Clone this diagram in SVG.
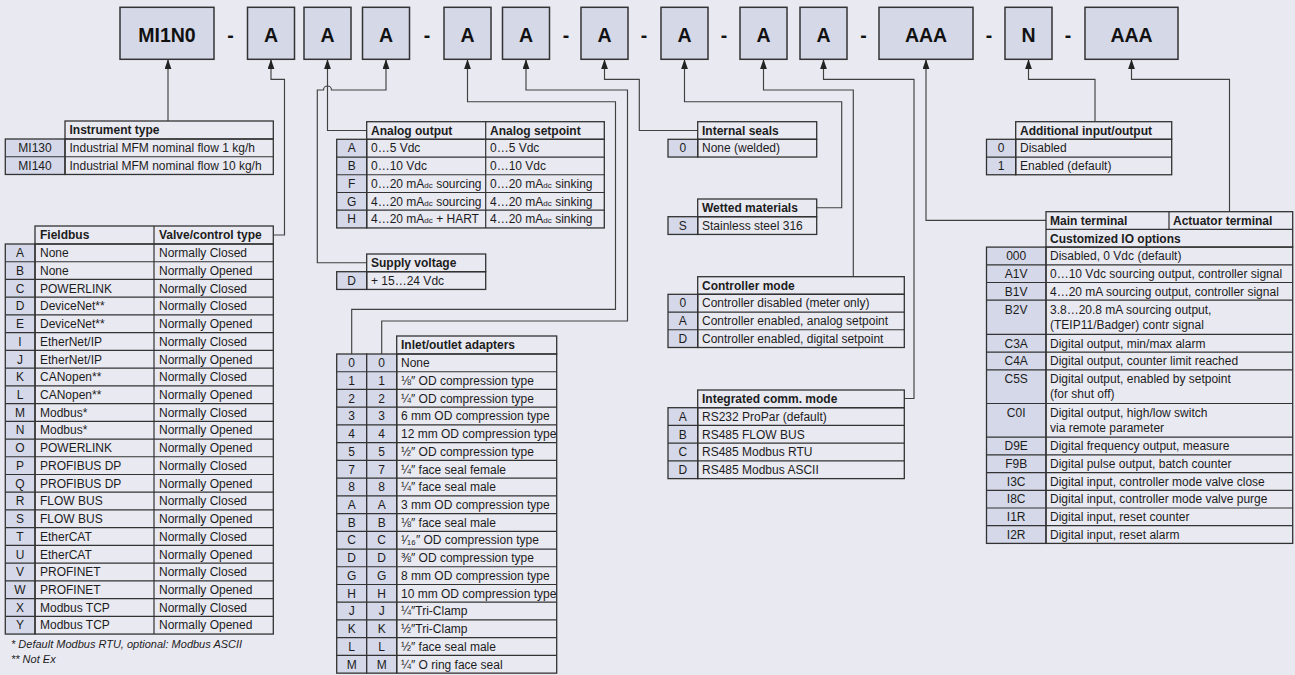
<svg xmlns="http://www.w3.org/2000/svg" width="1295" height="675" viewBox="0 0 1295 675">
<defs>
<style>
.t{font-family:"Liberation Sans",Arial,sans-serif;font-size:12px;fill:#1c1c1c}
.h{font-weight:bold}
.m{text-anchor:middle}
.code{fill:#d4d8e8;stroke:#333;stroke-width:1.3}
.cell{fill:none;stroke:#333;stroke-width:1.3}
.grid{fill:none;stroke:#333;stroke-width:1.2}
.box{fill:#d5d8e7;stroke:#333;stroke-width:1.5}
.big{font-family:"Liberation Sans",Arial,sans-serif;font-size:19.5px;font-weight:bold;text-anchor:middle;fill:#111}
.conn{fill:none;stroke:#404040;stroke-width:1.15}
.note{font-style:italic;font-size:11px}
.sub{font-size:8px}
</style>
<marker id="arr" markerUnits="userSpaceOnUse" markerWidth="10" markerHeight="8" refX="10" refY="3.5" orient="auto-start-reverse"><path d="M0,0 L10,3.5 L0,7 z" fill="#222"/></marker>
</defs>
<rect width="1295" height="675" fill="#e9e9f2"/>

<g id="code-row">
<g id="box-mi1n0"><rect class="box" x="120" y="7.3" width="94" height="52"/><text class="big" x="167" y="41.5">MI1N0</text></g>
<text class="big" x="230.5" y="41.5">-</text>
<g id="box-a1"><rect class="box" x="247.5" y="7.3" width="47" height="52"/><text class="big" x="271" y="41.5">A</text></g>
<g id="box-a2"><rect class="box" x="304" y="7.3" width="47" height="52"/><text class="big" x="327.5" y="41.5">A</text></g>
<g id="box-a3"><rect class="box" x="362.5" y="7.3" width="47" height="52"/><text class="big" x="386" y="41.5">A</text></g>
<text class="big" x="427" y="41.5">-</text>
<g id="box-a4"><rect class="box" x="444" y="7.3" width="47" height="52"/><text class="big" x="467.5" y="41.5">A</text></g>
<g id="box-a5"><rect class="box" x="502.5" y="7.3" width="47" height="52"/><text class="big" x="526" y="41.5">A</text></g>
<text class="big" x="566" y="41.5">-</text>
<g id="box-a6"><rect class="box" x="581" y="7.3" width="47" height="52"/><text class="big" x="604.5" y="41.5">A</text></g>
<text class="big" x="644" y="41.5">-</text>
<g id="box-a7"><rect class="box" x="661" y="7.3" width="47" height="52"/><text class="big" x="684.5" y="41.5">A</text></g>
<text class="big" x="724" y="41.5">-</text>
<g id="box-a8"><rect class="box" x="740" y="7.3" width="47" height="52"/><text class="big" x="763.5" y="41.5">A</text></g>
<g id="box-a9"><rect class="box" x="800" y="7.3" width="47" height="52"/><text class="big" x="823.5" y="41.5">A</text></g>
<text class="big" x="863.5" y="41.5">-</text>
<g id="box-aaa1"><rect class="box" x="879" y="7.3" width="94" height="52"/><text class="big" x="926" y="41.5">AAA</text></g>
<text class="big" x="989" y="41.5">-</text>
<g id="box-n"><rect class="box" x="1005" y="7.3" width="47" height="52"/><text class="big" x="1028.5" y="41.5">N</text></g>
<text class="big" x="1068" y="41.5">-</text>
<g id="box-aaa2"><rect class="box" x="1085" y="7.3" width="93" height="52"/><text class="big" x="1131.5" y="41.5">AAA</text></g>
</g>

<g id="connectors">
<path class="conn" marker-start="url(#arr)" d="M168,59.3 V121"/>
<path class="conn" marker-start="url(#arr)" d="M271,59.3 V79.3 H284.5 V235 H273.3"/>
<path class="conn" marker-start="url(#arr)" d="M327.5,59.3 V130.5 H366.7"/>
<path class="conn" marker-start="url(#arr)" d="M386,59.3 V90 H331.5 A4,4 0 0 0 323.5,90 H317.3 V262.7 H366.7"/>
<path class="conn" marker-start="url(#arr)" d="M467.5,59.3 V101.7 H615.5 V309.3 H351.7 V354"/>
<path class="conn" marker-start="url(#arr)" d="M526,59.3 V90 H627.5 V321 H381.7 V354"/>
<path class="conn" marker-start="url(#arr)" d="M604.5,59.3 V79.3 H639.3 V130.5 H697.7"/>
<path class="conn" marker-start="url(#arr)" d="M684.5,59.3 V101.7 H841.7 V207.7 H816.7"/>
<path class="conn" marker-start="url(#arr)" d="M763.5,59.3 V90 H853.3 V276.7"/>
<path class="conn" marker-start="url(#arr)" d="M823.5,59.3 V79.3 H914 V398.5 H904.3"/>
<path class="conn" marker-start="url(#arr)" d="M926,59.3 V220.3 H1046"/>
<path class="conn" marker-start="url(#arr)" d="M1028.5,59.3 V79.3 H1095 V121.7"/>
<path class="conn" marker-start="url(#arr)" d="M1131.5,59.3 V79.3 H1229.5 V211.7"/>
</g>

<g id="instrument-type">
<rect class="cell" x="65" y="121" width="208.3" height="18"/>
<rect class="code" x="5.3" y="139" width="59.7" height="35.46"/>
<rect class="cell" x="65" y="139" width="208.3" height="35.46"/>
<path class="grid" d="M5.3 156.73H273.3"/>
<text class="t h" x="69.5" y="134.1">Instrument type</text>
<text class="t m" x="35" y="152.1">MI130</text><text class="t" x="69.5" y="152.1">Industrial MFM nominal flow 1 kg/h</text>
<text class="t m" x="35" y="169.8">MI140</text><text class="t" x="69.5" y="169.8">Industrial MFM nominal flow 10 kg/h</text>
</g>

<g id="fieldbus">
<rect class="cell" x="35" y="226" width="238.3" height="18"/>
<rect class="code" x="5.3" y="244" width="29.7" height="390.06"/>
<rect class="cell" x="35" y="244" width="238.3" height="390.06"/>
<path class="grid" d="M154 226V634.06M5.3 261.73H273.3M5.3 279.46H273.3M5.3 297.19H273.3M5.3 314.92H273.3M5.3 332.65H273.3M5.3 350.38H273.3M5.3 368.11H273.3M5.3 385.84H273.3M5.3 403.57H273.3M5.3 421.3H273.3M5.3 439.03H273.3M5.3 456.76H273.3M5.3 474.49H273.3M5.3 492.22H273.3M5.3 509.95H273.3M5.3 527.68H273.3M5.3 545.41H273.3M5.3 563.14H273.3M5.3 580.87H273.3M5.3 598.6H273.3M5.3 616.33H273.3"/>
<text class="t h" x="40" y="239.3">Fieldbus</text><text class="t h" x="159" y="239.3">Valve/control type</text>
<text class="t m" x="20" y="257.1">A</text><text class="t" x="40" y="257.1">None</text><text class="t" x="159" y="257.1">Normally Closed</text>
<text class="t m" x="20" y="274.8">B</text><text class="t" x="40" y="274.8">None</text><text class="t" x="159" y="274.8">Normally Opened</text>
<text class="t m" x="20" y="292.6">C</text><text class="t" x="40" y="292.6">POWERLINK</text><text class="t" x="159" y="292.6">Normally Closed</text>
<text class="t m" x="20" y="310.3">D</text><text class="t" x="40" y="310.3">DeviceNet**</text><text class="t" x="159" y="310.3">Normally Closed</text>
<text class="t m" x="20" y="328">E</text><text class="t" x="40" y="328">DeviceNet**</text><text class="t" x="159" y="328">Normally Opened</text>
<text class="t m" x="20" y="345.8">I</text><text class="t" x="40" y="345.8">EtherNet/IP</text><text class="t" x="159" y="345.8">Normally Closed</text>
<text class="t m" x="20" y="363.5">J</text><text class="t" x="40" y="363.5">EtherNet/IP</text><text class="t" x="159" y="363.5">Normally Opened</text>
<text class="t m" x="20" y="381.2">K</text><text class="t" x="40" y="381.2">CANopen**</text><text class="t" x="159" y="381.2">Normally Closed</text>
<text class="t m" x="20" y="398.9">L</text><text class="t" x="40" y="398.9">CANopen**</text><text class="t" x="159" y="398.9">Normally Opened</text>
<text class="t m" x="20" y="416.7">M</text><text class="t" x="40" y="416.7">Modbus*</text><text class="t" x="159" y="416.7">Normally Closed</text>
<text class="t m" x="20" y="434.4">N</text><text class="t" x="40" y="434.4">Modbus*</text><text class="t" x="159" y="434.4">Normally Opened</text>
<text class="t m" x="20" y="452.1">O</text><text class="t" x="40" y="452.1">POWERLINK</text><text class="t" x="159" y="452.1">Normally Opened</text>
<text class="t m" x="20" y="469.9">P</text><text class="t" x="40" y="469.9">PROFIBUS DP</text><text class="t" x="159" y="469.9">Normally Closed</text>
<text class="t m" x="20" y="487.6">Q</text><text class="t" x="40" y="487.6">PROFIBUS DP</text><text class="t" x="159" y="487.6">Normally Opened</text>
<text class="t m" x="20" y="505.3">R</text><text class="t" x="40" y="505.3">FLOW BUS</text><text class="t" x="159" y="505.3">Normally Closed</text>
<text class="t m" x="20" y="523.1">S</text><text class="t" x="40" y="523.1">FLOW BUS</text><text class="t" x="159" y="523.1">Normally Opened</text>
<text class="t m" x="20" y="540.8">T</text><text class="t" x="40" y="540.8">EtherCAT</text><text class="t" x="159" y="540.8">Normally Closed</text>
<text class="t m" x="20" y="558.5">U</text><text class="t" x="40" y="558.5">EtherCAT</text><text class="t" x="159" y="558.5">Normally Opened</text>
<text class="t m" x="20" y="576.2">V</text><text class="t" x="40" y="576.2">PROFINET</text><text class="t" x="159" y="576.2">Normally Closed</text>
<text class="t m" x="20" y="594">W</text><text class="t" x="40" y="594">PROFINET</text><text class="t" x="159" y="594">Normally Opened</text>
<text class="t m" x="20" y="611.7">X</text><text class="t" x="40" y="611.7">Modbus TCP</text><text class="t" x="159" y="611.7">Normally Closed</text>
<text class="t m" x="20" y="629.4">Y</text><text class="t" x="40" y="629.4">Modbus TCP</text><text class="t" x="159" y="629.4">Normally Opened</text>
<text class="t note" x="11" y="648">* Default Modbus RTU, optional: Modbus ASCII</text>
<text class="t note" x="11" y="662.5">** Not Ex</text>
</g>

<g id="analog-output">
<rect class="cell" x="366.7" y="121.7" width="237.6" height="17.6"/>
<rect class="code" x="336.7" y="139.3" width="30" height="88.65"/>
<rect class="cell" x="366.7" y="139.3" width="237.6" height="88.65"/>
<path class="grid" d="M485.7 121.7V227.95M336.7 157.03H604.3M336.7 174.76H604.3M336.7 192.49H604.3M336.7 210.22H604.3"/>
<text class="t h" x="371" y="134.8">Analog output</text><text class="t h" x="490" y="134.8">Analog setpoint</text>
<text class="t m" x="351.7" y="152.4">A</text><text class="t" x="371" y="152.4">0…5 Vdc</text><text class="t" x="490" y="152.4">0…5 Vdc</text>
<text class="t m" x="351.7" y="170.1">B</text><text class="t" x="371" y="170.1">0…10 Vdc</text><text class="t" x="490" y="170.1">0…10 Vdc</text>
<text class="t m" x="351.7" y="187.9">F</text><text class="t" x="371" y="187.9">0…20 mA<tspan class="sub">dc</tspan> sourcing</text><text class="t" x="490" y="187.9">0…20 mA<tspan class="sub">dc</tspan> sinking</text>
<text class="t m" x="351.7" y="205.6">G</text><text class="t" x="371" y="205.6">4…20 mA<tspan class="sub">dc</tspan> sourcing</text><text class="t" x="490" y="205.6">4…20 mA<tspan class="sub">dc</tspan> sinking</text>
<text class="t m" x="351.7" y="223.3">H</text><text class="t" x="371" y="223.3">4…20 mA<tspan class="sub">dc</tspan> + HART</text><text class="t" x="490" y="223.3">4…20 mA<tspan class="sub">dc</tspan> sinking</text>
</g>

<g id="supply-voltage">
<rect class="cell" x="366.7" y="254" width="119" height="17.7"/>
<rect class="code" x="336.7" y="271.7" width="30" height="17.73"/>
<rect class="cell" x="366.7" y="271.7" width="119" height="17.73"/>
<text class="t h" x="371" y="267.1">Supply voltage</text>
<text class="t m" x="351.7" y="284.8">D</text><text class="t" x="371" y="284.8">+ 15…24 Vdc</text>
</g>

<g id="inlet-outlet">
<rect class="cell" x="396.7" y="336" width="160" height="18"/>
<rect class="code" x="336.7" y="354" width="30" height="319.14"/>
<rect class="code" x="366.7" y="354" width="30" height="319.14"/>
<rect class="cell" x="396.7" y="354" width="160" height="319.14"/>
<path class="grid" d="M336.7 371.73H556.7M336.7 389.46H556.7M336.7 407.19H556.7M336.7 424.92H556.7M336.7 442.65H556.7M336.7 460.38H556.7M336.7 478.11H556.7M336.7 495.84H556.7M336.7 513.57H556.7M336.7 531.3H556.7M336.7 549.03H556.7M336.7 566.76H556.7M336.7 584.49H556.7M336.7 602.22H556.7M336.7 619.95H556.7M336.7 637.68H556.7M336.7 655.41H556.7"/>
<text class="t h" x="401" y="349.3">Inlet/outlet adapters</text>
<text class="t m" x="351.7" y="367.1">0</text><text class="t m" x="381.7" y="367.1">0</text><text class="t" x="401" y="367.1">None</text>
<text class="t m" x="351.7" y="384.8">1</text><text class="t m" x="381.7" y="384.8">1</text><text class="t" x="401" y="384.8">⅛″ OD compression type</text>
<text class="t m" x="351.7" y="402.6">2</text><text class="t m" x="381.7" y="402.6">2</text><text class="t" x="401" y="402.6">¼″ OD compression type</text>
<text class="t m" x="351.7" y="420.3">3</text><text class="t m" x="381.7" y="420.3">3</text><text class="t" x="401" y="420.3">6 mm OD compression type</text>
<text class="t m" x="351.7" y="438">4</text><text class="t m" x="381.7" y="438">4</text><text class="t" x="401" y="438">12 mm OD compression type</text>
<text class="t m" x="351.7" y="455.8">5</text><text class="t m" x="381.7" y="455.8">5</text><text class="t" x="401" y="455.8">½″ OD compression type</text>
<text class="t m" x="351.7" y="473.5">7</text><text class="t m" x="381.7" y="473.5">7</text><text class="t" x="401" y="473.5">¼″ face seal female</text>
<text class="t m" x="351.7" y="491.2">8</text><text class="t m" x="381.7" y="491.2">8</text><text class="t" x="401" y="491.2">¼″ face seal male</text>
<text class="t m" x="351.7" y="508.9">A</text><text class="t m" x="381.7" y="508.9">A</text><text class="t" x="401" y="508.9">3 mm OD compression type</text>
<text class="t m" x="351.7" y="526.7">B</text><text class="t m" x="381.7" y="526.7">B</text><text class="t" x="401" y="526.7">⅛″ face seal male</text>
<text class="t m" x="351.7" y="544.4">C</text><text class="t m" x="381.7" y="544.4">C</text><text class="t" x="401" y="544.4">¹⁄₁₆″ OD compression type</text>
<text class="t m" x="351.7" y="562.1">D</text><text class="t m" x="381.7" y="562.1">D</text><text class="t" x="401" y="562.1">⅜″ OD compression type</text>
<text class="t m" x="351.7" y="579.9">G</text><text class="t m" x="381.7" y="579.9">G</text><text class="t" x="401" y="579.9">8 mm OD compression type</text>
<text class="t m" x="351.7" y="597.6">H</text><text class="t m" x="381.7" y="597.6">H</text><text class="t" x="401" y="597.6">10 mm OD compression type</text>
<text class="t m" x="351.7" y="615.3">J</text><text class="t m" x="381.7" y="615.3">J</text><text class="t" x="401" y="615.3">¼″Tri-Clamp</text>
<text class="t m" x="351.7" y="633.1">K</text><text class="t m" x="381.7" y="633.1">K</text><text class="t" x="401" y="633.1">½″Tri-Clamp</text>
<text class="t m" x="351.7" y="650.8">L</text><text class="t m" x="381.7" y="650.8">L</text><text class="t" x="401" y="650.8">½″ face seal male</text>
<text class="t m" x="351.7" y="668.5">M</text><text class="t m" x="381.7" y="668.5">M</text><text class="t" x="401" y="668.5">¼″ O ring face seal</text>
</g>

<g id="internal-seals">
<rect class="cell" x="697.7" y="121.7" width="119" height="17.6"/>
<rect class="code" x="668" y="139.3" width="29.7" height="17.73"/>
<rect class="cell" x="697.7" y="139.3" width="119" height="17.73"/>
<text class="t h" x="702" y="134.8">Internal seals</text>
<text class="t m" x="682.8" y="152.4">0</text><text class="t" x="702" y="152.4">None (welded)</text>
</g>

<g id="wetted-materials">
<rect class="cell" x="697.7" y="199" width="119" height="17.7"/>
<rect class="code" x="668" y="216.7" width="29.7" height="17.73"/>
<rect class="cell" x="697.7" y="216.7" width="119" height="17.73"/>
<text class="t h" x="702" y="212.1">Wetted materials</text>
<text class="t m" x="682.8" y="229.8">S</text><text class="t" x="702" y="229.8">Stainless steel 316</text>
</g>

<g id="controller-mode">
<rect class="cell" x="697.7" y="276.7" width="206.6" height="17.6"/>
<rect class="code" x="668" y="294.3" width="29.7" height="53.19"/>
<rect class="cell" x="697.7" y="294.3" width="206.6" height="53.19"/>
<path class="grid" d="M668 312.03H904.3M668 329.76H904.3"/>
<text class="t h" x="702" y="289.8">Controller mode</text>
<text class="t m" x="682.8" y="307.4">0</text><text class="t" x="702" y="307.4">Controller disabled (meter only)</text>
<text class="t m" x="682.8" y="325.1">A</text><text class="t" x="702" y="325.1">Controller enabled, analog setpoint</text>
<text class="t m" x="682.8" y="342.9">D</text><text class="t" x="702" y="342.9">Controller enabled, digital setpoint</text>
</g>

<g id="integrated-comm">
<rect class="cell" x="697.7" y="390" width="206.6" height="17.7"/>
<rect class="code" x="668" y="407.7" width="29.7" height="70.92"/>
<rect class="cell" x="697.7" y="407.7" width="206.6" height="70.92"/>
<path class="grid" d="M668 425.43H904.3M668 443.16H904.3M668 460.89H904.3"/>
<text class="t h" x="702" y="403.1">Integrated comm. mode</text>
<text class="t m" x="682.8" y="420.8">A</text><text class="t" x="702" y="420.8">RS232 ProPar (default)</text>
<text class="t m" x="682.8" y="438.5">B</text><text class="t" x="702" y="438.5">RS485 FLOW BUS</text>
<text class="t m" x="682.8" y="456.3">C</text><text class="t" x="702" y="456.3">RS485 Modbus RTU</text>
<text class="t m" x="682.8" y="474">D</text><text class="t" x="702" y="474">RS485 Modbus ASCII</text>
</g>

<g id="additional-io">
<rect class="cell" x="1015.7" y="121.7" width="156" height="17.6"/>
<rect class="code" x="986.5" y="139.3" width="29.2" height="35.46"/>
<rect class="cell" x="1015.7" y="139.3" width="156" height="35.46"/>
<path class="grid" d="M986.5 157.03H1171.7"/>
<text class="t h" x="1020" y="134.8">Additional input/output</text>
<text class="t m" x="1001.1" y="152.4">0</text><text class="t" x="1020" y="152.4">Disabled</text>
<text class="t m" x="1001.1" y="170.1">1</text><text class="t" x="1020" y="170.1">Enabled (default)</text>
</g>

<g id="main-terminal">
<rect class="cell" x="1046" y="211.7" width="246.7" height="35.4"/>
<rect class="code" x="986.5" y="247.1" width="59.5" height="296.3"/>
<rect class="cell" x="1046" y="247.1" width="246.7" height="296.3"/>
<path class="grid" d="M1169 211.7V229.4M1046 229.4H1292.7M986.5 264.8H1292.7M986.5 282.5H1292.7M986.5 300.2H1292.7M986.5 334.4H1292.7M986.5 352.1H1292.7M986.5 369.8H1292.7M986.5 403.5H1292.7M986.5 437.2H1292.7M986.5 454.9H1292.7M986.5 472.6H1292.7M986.5 490.3H1292.7M986.5 508H1292.7M986.5 525.7H1292.7"/>
<text class="t h" x="1050" y="225">Main terminal</text><text class="t h" x="1173" y="225">Actuator terminal</text>
<text class="t h" x="1050" y="242.7">Customized IO options</text>
<text class="t m" x="1016.2" y="260.2">000</text><text class="t" x="1050" y="260.2">Disabled, 0 Vdc (default)</text>
<text class="t m" x="1016.2" y="277.9">A1V</text><text class="t" x="1050" y="277.9">0…10 Vdc sourcing output, controller signal</text>
<text class="t m" x="1016.2" y="295.6">B1V</text><text class="t" x="1050" y="295.6">4…20 mA sourcing output, controller signal</text>
<text class="t m" x="1016.2" y="313.6">B2V</text><text class="t" x="1050" y="313.6">3.8…20.8 mA sourcing output,</text><text class="t" x="1050" y="328.6">(TEIP11/Badger) contr signal</text>
<text class="t m" x="1016.2" y="347.5">C3A</text><text class="t" x="1050" y="347.5">Digital output, min/max alarm</text>
<text class="t m" x="1016.2" y="365.2">C4A</text><text class="t" x="1050" y="365.2">Digital output, counter limit reached</text>
<text class="t m" x="1016.2" y="383">C5S</text><text class="t" x="1050" y="383">Digital output, enabled by setpoint</text><text class="t" x="1050" y="398">(for shut off)</text>
<text class="t m" x="1016.2" y="416.7">C0I</text><text class="t" x="1050" y="416.7">Digital output, high/low switch</text><text class="t" x="1050" y="431.7">via remote parameter</text>
<text class="t m" x="1016.2" y="450.3">D9E</text><text class="t" x="1050" y="450.3">Digital frequency output, measure</text>
<text class="t m" x="1016.2" y="468">F9B</text><text class="t" x="1050" y="468">Digital pulse output, batch counter</text>
<text class="t m" x="1016.2" y="485.7">I3C</text><text class="t" x="1050" y="485.7">Digital input, controller mode valve close</text>
<text class="t m" x="1016.2" y="503.4">I8C</text><text class="t" x="1050" y="503.4">Digital input, controller mode valve purge</text>
<text class="t m" x="1016.2" y="521.1">I1R</text><text class="t" x="1050" y="521.1">Digital input, reset counter</text>
<text class="t m" x="1016.2" y="538.8">I2R</text><text class="t" x="1050" y="538.8">Digital input, reset alarm</text>
</g>
</svg>
